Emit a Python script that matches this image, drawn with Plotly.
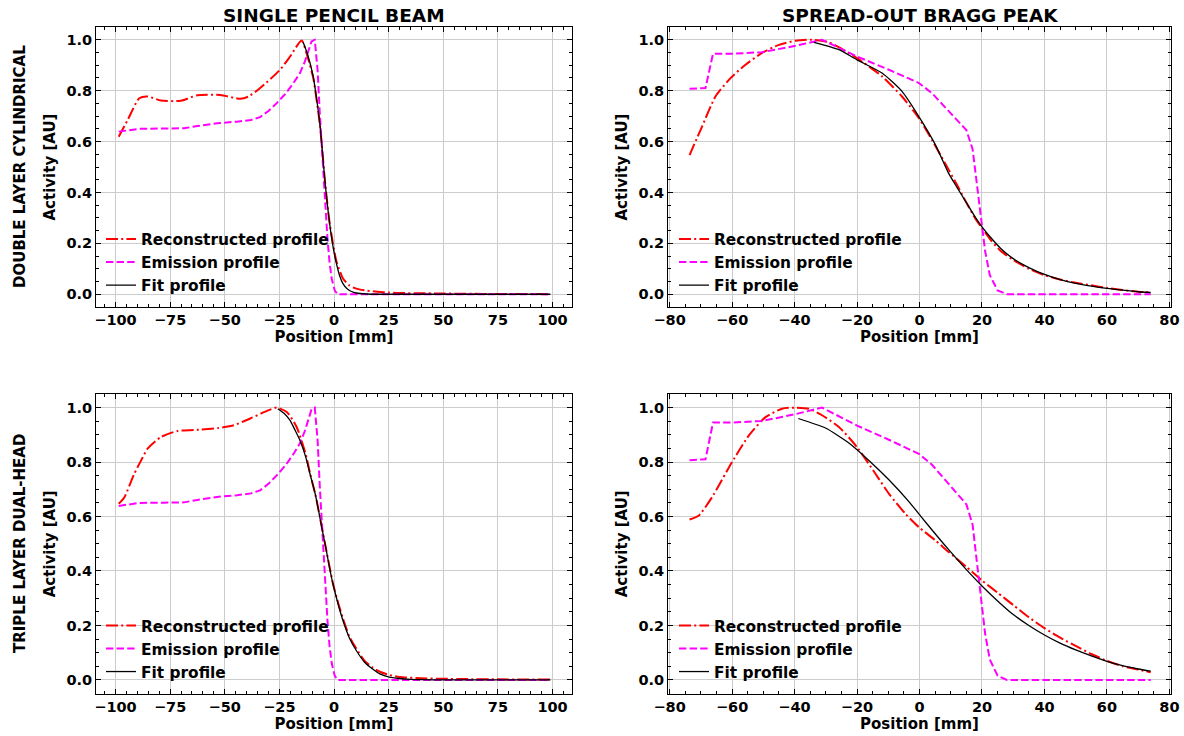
import plotly.graph_objects as go

# ---------------- data ----------------
# Single pencil beam, double layer cylindrical
spb_dl_recon_x = [-98.5, -94.4, -89.1, -85.3, -79.2, -70.1, -62.5, -52, -42.9, -39.1, -33.8, -24.7, -20.1, -14.8,
                  -12, -9.5, -6.5, -4.2, -2, 1.1, 4.1, 7, 10.2, 15, 20, 25, 30, 40, 50, 60, 75, 99]
spb_dl_recon_y = [0.619, 0.685, 0.770, 0.777, 0.761, 0.760, 0.782, 0.783, 0.768, 0.777, 0.810, 0.882, 0.934, 0.997,
                  0.93, 0.85, 0.67, 0.45, 0.28, 0.13, 0.062, 0.035, 0.022, 0.014, 0.010, 0.007, 0.005, 0.004, 0.003,
                  0.002, 0.001, 0.0005]
spb_dl_fit_x = [-14.1, -12, -9.5, -8, -6.5, -5.3, -4.2, -3, -2, -0.5, 1.1, 2.5, 4.1, 6, 8, 10.2, 15, 20, 99]
spb_dl_fit_y = [0.99, 0.94, 0.855, 0.77, 0.672, 0.56, 0.449, 0.35, 0.278, 0.19, 0.121, 0.075, 0.042, 0.022, 0.011,
                0.005, 0.001, 0.0, 0.0]

# Single pencil beam, triple layer dual-head
spb_th_recon_x = [-98.5, -95.9, -91.4, -88, -85.3, -79.2, -71.6, -61, -53, -45.9, -38.3, -30.7, -26.2, -21.6, -17.1,
                  -13, -11, -8.5, -6.5, -3.5, -0.5, 2, 4.1, 7, 10.2, 14, 17.7, 21, 25.3, 30, 40, 50, 60, 75, 99]
spb_th_recon_y = [0.647, 0.671, 0.757, 0.81, 0.849, 0.892, 0.914, 0.919, 0.925, 0.935, 0.96, 0.988, 1.0, 0.984, 0.929,
                  0.83, 0.76, 0.68, 0.60, 0.475, 0.355, 0.28, 0.225, 0.16, 0.115, 0.07, 0.045, 0.03, 0.018, 0.011,
                  0.006, 0.004, 0.003, 0.002, 0.001]
spb_th_fit_x = [-25.7, -23, -20.1, -18, -15.6, -13, -11, -8.5, -6.5, -5, -3.5, -2, -0.5, 2, 4.1, 7, 10.2, 14, 17.7,
                21, 25.3, 30, 35, 40, 50, 99]
spb_th_fit_y = [0.996, 0.98, 0.953, 0.92, 0.88, 0.82, 0.757, 0.68, 0.598, 0.535, 0.475, 0.41, 0.353, 0.275, 0.218,
                0.155, 0.108, 0.065, 0.04, 0.022, 0.01, 0.005, 0.002, 0.001, 0.0, 0.0]

# Single pencil beam emission profile
spb_emis_x = [-98.5, -89, -78, -68.6, -62.5, -53.5, -44.4, -38, -33.8, -30, -26.2, -22, -18.6, -15.5, -13.3, -10.3,
              -8.8, -7.5, -6.5, -5.3, -4.2, -3, -2, -1, 0.3, 1.6, 5, 99]
spb_emis_y = [0.639, 0.65, 0.651, 0.652, 0.661, 0.672, 0.678, 0.685, 0.696, 0.72, 0.751, 0.79, 0.829, 0.87, 0.915,
              0.993, 1.0, 0.88, 0.711, 0.54, 0.383, 0.22, 0.121, 0.06, 0.016, 0.0, 0.0, 0.0]

# Spread-out Bragg peak, double layer cylindrical
sobp_dl_recon_x = [-73.6, -69.6, -65.3, -60.5, -55.7, -50.4, -45, -39.7, -34.4, -29, -25, -20, -12, -5.6, -0.2, 4,
                   8.8, 12, 15, 18, 20, 23, 26, 30, 35, 40, 45, 50, 55, 60, 65, 70, 74]
sobp_dl_recon_y = [0.547, 0.659, 0.777, 0.849, 0.902, 0.948, 0.98, 0.996, 1.0, 0.99, 0.965, 0.928, 0.856, 0.777,
                   0.692, 0.606, 0.501, 0.43, 0.36, 0.295, 0.26, 0.21, 0.17, 0.135, 0.10, 0.075, 0.058, 0.045,
                   0.035, 0.025, 0.017, 0.010, 0.007]
sobp_dl_fit_x = [-33.8, -25.8, -20, -12, -5.6, -0.2, 5.1, 9.2, 12, 15, 18, 20, 23, 26, 30, 35, 40, 45, 50, 55, 60,
                 65, 70, 74]
sobp_dl_fit_y = [0.99, 0.961, 0.921, 0.869, 0.797, 0.698, 0.587, 0.478, 0.42, 0.36, 0.30, 0.265, 0.22, 0.18, 0.14,
                 0.105, 0.078, 0.058, 0.043, 0.032, 0.023, 0.016, 0.010, 0.007]

# Spread-out Bragg peak, triple layer dual-head
sobp_th_recon_x = [-73.6, -70.6, -66.4, -60, -54.6, -49.3, -44, -39.7, -35.4, -31.2, -25.8, -20, -14.1, -9.8, -4.5,
                   -0.2, 5.1, 9.4, 15, 20, 25, 30, 35, 40, 45, 50, 55, 60, 65, 70, 74]
sobp_th_recon_y = [0.589, 0.604, 0.671, 0.80, 0.898, 0.965, 0.996, 1.0, 0.996, 0.972, 0.929, 0.855, 0.757, 0.684,
                   0.61, 0.561, 0.512, 0.469, 0.415, 0.365, 0.32, 0.275, 0.23, 0.19, 0.155, 0.125, 0.095, 0.07,
                   0.05, 0.038, 0.028]
sobp_th_fit_x = [-38.8, -30.1, -22.6, -16.2, -9.8, -3.4, 1.9, 9.2, 15, 20, 25, 30, 35, 40, 45, 50, 55, 60, 65, 70, 74]
sobp_th_fit_y = [0.96, 0.925, 0.87, 0.806, 0.735, 0.655, 0.58, 0.48, 0.405, 0.345, 0.29, 0.24, 0.20, 0.165, 0.135,
                 0.11, 0.088, 0.068, 0.052, 0.04, 0.032]

# Spread-out Bragg peak emission profile
sobp_emis_x = [-73.6, -68.5, -66.1, -60, -50.4, -39.7, -31.2, -20, -9.8, -0.2, 4, 9.4, 12.5, 15, 17, 18.5, 20, 21,
               22.5, 25, 28, 74]
sobp_emis_y = [0.807, 0.81, 0.945, 0.945, 0.951, 0.976, 1.0, 0.934, 0.882, 0.83, 0.79, 0.718, 0.68, 0.645, 0.57,
               0.43, 0.27, 0.17, 0.075, 0.015, 0.0, 0.0]

col_titles = ["SINGLE PENCIL BEAM", "SPREAD-OUT BRAGG PEAK"]
row_titles = ["DOUBLE LAYER CYLINDRICAL", "TRIPLE LAYER DUAL-HEAD"]
names = ["Reconstructed profile", "Emission profile", "Fit profile"]

# ---------------- figure ----------------
W, H = 1184, 736
FONT = "DejaVu Sans"
fig = go.Figure()

panels = [
    ("x", "y", "legend", (spb_dl_recon_x, spb_dl_recon_y), (spb_emis_x, spb_emis_y), (spb_dl_fit_x, spb_dl_fit_y)),
    ("x2", "y2", "legend2", (sobp_dl_recon_x, sobp_dl_recon_y), (sobp_emis_x, sobp_emis_y), (sobp_dl_fit_x, sobp_dl_fit_y)),
    ("x3", "y3", "legend3", (spb_th_recon_x, spb_th_recon_y), (spb_emis_x, spb_emis_y), (spb_th_fit_x, spb_th_fit_y)),
    ("x4", "y4", "legend4", (sobp_th_recon_x, sobp_th_recon_y), (sobp_emis_x, sobp_emis_y), (sobp_th_fit_x, sobp_th_fit_y)),
]

styles = [
    dict(color="red", width=2, dash="12px,3.2px,2px,3.2px", shape="spline"),
    dict(color="magenta", width=2, dash="7.4px,3.2px", shape="linear"),
    dict(color="black", width=1.3, dash="solid", shape="spline"),
]

for xa, ya, lg, rec, emi, fit in panels:
    for (xs, ys), nm, st in zip([rec, emi, fit], names, styles):
        line = dict(color=st["color"], width=st["width"], dash=st["dash"], shape=st["shape"])
        if st["shape"] == "spline":
            line["smoothing"] = 0.6
        fig.add_trace(go.Scatter(x=xs, y=ys, mode="lines", name=nm, xaxis=xa, yaxis=ya, legend=lg, line=line))


def px_x(p):
    return p / W


def px_y(p):
    return 1 - p / H


xdom_left = [px_x(96), px_x(572)]
xdom_right = [px_x(668), px_x(1171)]
ydom_top = [px_y(307), px_y(27)]
ydom_bot = [px_y(693.5), px_y(394)]

tickfont = dict(family=FONT, size=14.5, color="black", weight="bold")
titlefont = dict(family=FONT, size=15, color="black", weight="bold")


def xaxis(dom, rng, dtick, mdtick, anchor):
    return dict(domain=dom, range=rng, dtick=dtick, tick0=0, anchor=anchor, automargin=False,
                showline=True, linecolor="black", linewidth=1, mirror="allticks",
                ticks="inside", ticklen=5, tickwidth=1, tickcolor="black",
                showgrid=True, gridcolor="#cccccc", gridwidth=1, zeroline=False,
                tickfont=tickfont,
                title=dict(text="Position [mm]", font=titlefont, standoff=2),
                minor=dict(ticks="inside", ticklen=3, tickwidth=1, tickcolor="black", dtick=mdtick,
                           showgrid=False))


def yaxis(dom, anchor):
    return dict(domain=dom, range=[-0.05, 1.05], dtick=0.2, tick0=0, tickformat=".1f", anchor=anchor,
                automargin=False,
                showline=True, linecolor="black", linewidth=1, mirror="allticks",
                ticks="inside", ticklen=5, tickwidth=1, tickcolor="black",
                showgrid=True, gridcolor="#cccccc", gridwidth=1, zeroline=False,
                tickfont=tickfont,
                title=dict(text="Activity [AU]", font=titlefont, standoff=7),
                minor=dict(ticks="inside", ticklen=3, tickwidth=1, tickcolor="black", dtick=0.05,
                           showgrid=False))


legfont = dict(family=FONT, size=15.4, color="black", weight="bold")


def legend(xp, ybottom):
    return dict(x=px_x(xp), y=px_y(ybottom), xanchor="left", yanchor="bottom",
                bgcolor="rgba(0,0,0,0)", font=legfont, itemwidth=30, tracegroupgap=0)


annotations = [
    dict(text=col_titles[0], x=px_x(334), y=px_y(16), xref="paper", yref="paper", showarrow=False,
         font=dict(family=FONT, size=18.5, color="black", weight="bold"), xanchor="center", yanchor="middle"),
    dict(text=col_titles[1], x=px_x(920), y=px_y(16), xref="paper", yref="paper", showarrow=False,
         font=dict(family=FONT, size=18.5, color="black", weight="bold"), xanchor="center", yanchor="middle"),
    dict(text=row_titles[0], x=px_x(20), y=px_y(167), xref="paper", yref="paper", showarrow=False, textangle=-90,
         font=dict(family=FONT, size=15, color="black", weight="bold"), xanchor="center", yanchor="middle"),
    dict(text=row_titles[1], x=px_x(20), y=px_y(544), xref="paper", yref="paper", showarrow=False, textangle=-90,
         font=dict(family=FONT, size=15, color="black", weight="bold"), xanchor="center", yanchor="middle"),
]

fig.update_layout(
    width=W, height=H, margin=dict(l=0, r=0, t=0, b=0, autoexpand=False),
    paper_bgcolor="white", plot_bgcolor="white",
    font=dict(family=FONT, color="black"),
    xaxis=xaxis(xdom_left, [-108.9, 108.9], 25, 5, "y"),
    yaxis=yaxis(ydom_top, "x"),
    xaxis2=xaxis(xdom_right, [-80.5, 80.5], 20, 5, "y2"),
    yaxis2=yaxis(ydom_top, "x2"),
    xaxis3=xaxis(xdom_left, [-108.9, 108.9], 25, 5, "y3"),
    yaxis3=yaxis(ydom_bot, "x3"),
    xaxis4=xaxis(xdom_right, [-80.5, 80.5], 20, 5, "y4"),
    yaxis4=yaxis(ydom_bot, "x4"),
    legend=legend(101, 302.5),
    legend2=legend(674, 302.5),
    legend3=legend(101, 689),
    legend4=legend(674, 689),
    annotations=annotations,
    showlegend=True,
)

fig.write_html("out.html", config={"displayModeBar": False},
               post_script="document.body.style.margin='0px';document.body.style.overflow='hidden';")
